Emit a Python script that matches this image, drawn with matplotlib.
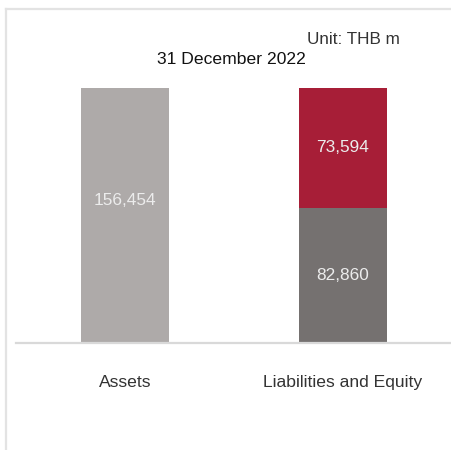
import matplotlib
matplotlib.use("Agg")
import matplotlib.pyplot as plt
from matplotlib.lines import Line2D

categories = ["Assets", "Liabilities and Equity"]
assets = [156454, 0]
liabilities = [0, 82860]
equity = [0, 73594]
title = "31 December 2022"
unit = "Unit: THB m"

plt.rcParams['font.family'] = ['Liberation Sans', 'DejaVu Sans']

W, H = 452, 450
fig = plt.figure(figsize=(W / 100, H / 100), dpi=100)
fig.patch.set_facecolor('white')

# outer frame (top and left)
fig.add_artist(Line2D([6 / W, 1], [1 - 9 / H, 1 - 9 / H], color='#e3e3e3', lw=1.6, transform=fig.transFigure))
fig.add_artist(Line2D([6 / W, 6 / W], [0, 1 - 9 / H], color='#e3e3e3', lw=1.6, transform=fig.transFigure))

ax = fig.add_axes([16 / W, (H - 343) / H, (W - 16) / W, (343 - 88) / H])
x = [0, 1]
width = 0.404
ax.bar(x[0], assets[0], width=width, color='#aeaaa9')
ax.bar(x[1], liabilities[1], width=width, color='#757170')
ax.bar(x[1], equity[1], bottom=liabilities[1], width=width, color='#a71e37')

ax.set_xlim(-0.5, 1.5)
ax.set_ylim(0, assets[0])

lab_col = '#ececec'
ax.text(x[0], assets[0] * 0.56, f"{assets[0]:,}", ha='center', va='center', color=lab_col, fontsize=12.4)
ax.text(x[1], liabilities[1] / 2, f"{liabilities[1]:,}", ha='center', va='center', color=lab_col, fontsize=12.4)
ax.text(x[1], liabilities[1] + equity[1] / 2, f"{equity[1]:,}", ha='center', va='center', color=lab_col, fontsize=12.4)

for s in ['top', 'right', 'left']:
    ax.spines[s].set_visible(False)
ax.spines['bottom'].set_color('#d9d9d9')
ax.spines['bottom'].set_linewidth(1.6)
ax.set_yticks([])
ax.set_xticks(x)
ax.set_xticklabels(categories, fontsize=12.6, color='#333333')
ax.tick_params(axis='x', length=0, pad=23)

fig.text(231 / W, 1 - 59 / H, title, ha='center', va='center', fontsize=12.6, color='#111111')
fig.text(400 / W, 1 - 40 / H, unit, ha='right', va='center', fontsize=12.3, color='#333333')

fig.savefig("out.png", dpi=100)
